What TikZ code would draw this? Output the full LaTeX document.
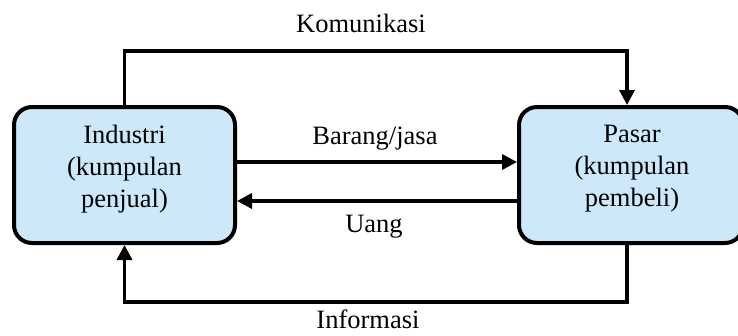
\documentclass[tikz,border=0pt]{standalone}
\usepackage{fontspec}
\setmainfont{Liberation Serif}
\usetikzlibrary{arrows.meta}
\definecolor{boxblue}{RGB}{204,232,249}
\begin{document}
\begin{tikzpicture}[x=1pt,y=-1pt,
  box/.style={draw=black,line width=4pt,fill=boxblue,rounded corners=18pt,minimum width=221pt,minimum height=136pt,inner sep=0pt},
  boxtext/.style={align=center,font=\fontsize{26.5}{32}\selectfont,inner sep=0pt},
  lbl/.style={font=\fontsize{26.5}{32}\selectfont,inner sep=0pt,anchor=base},
  arr/.style={line width=3.5pt,-{Triangle[length=15pt,width=15pt]}}]
\clip (0,0) rectangle (738,335);
\fill[white] (0,0) rectangle (738,335);
% boxes
\node[box] (ind) at (124.5,175) {};
\node[box,minimum width=224pt] (pas) at (631,175) {};
\node[boxtext] (indt) at (124.5,169) {Industri\\(kumpulan\\penjual)};
\node[boxtext] (past) at (632,169) {Pasar\\(kumpulan\\pembeli)};
% coordinates for the outer connectors
\coordinate (topc) at (380,51);
\coordinate (botc) at (380,302);
% connectors
\draw[arr] (ind.north) |- (topc) -| ([xshift=-4pt]pas.north);
\draw[arr] ([xshift=-4pt]pas.south) |- (botc) -| (ind.south);
\draw[arr] ([yshift=13pt]ind.east) -- ([yshift=13pt]pas.west);
\draw[arr] ([yshift=-26pt]pas.west) -- ([yshift=-26pt]ind.east);
% labels
\node[lbl] (lkom) at (361,32) {Komunikasi};
\node[lbl] (linf) at (368,328) {Informasi};
\node[lbl] (lbar) at (375,144) {Barang/jasa};
\node[lbl] (luang) at (374,232) {Uang};
\end{tikzpicture}
\end{document}
